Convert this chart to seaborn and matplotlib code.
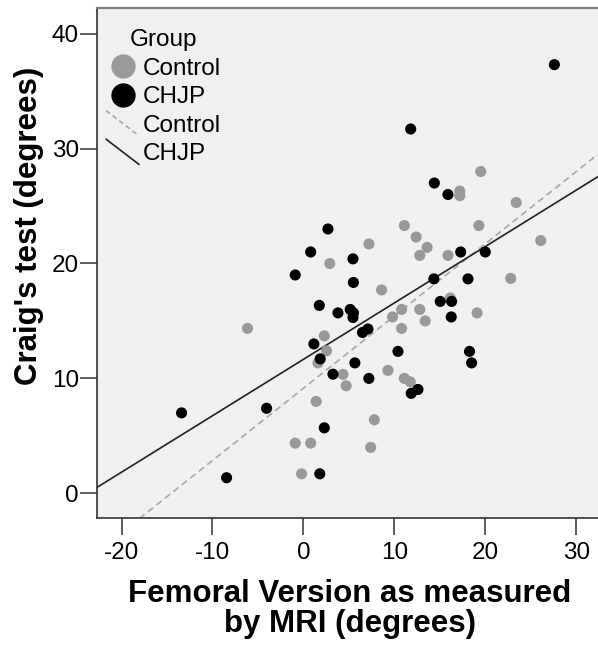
import matplotlib
matplotlib.use("Agg")
import matplotlib.pyplot as plt
import seaborn as sns
import pandas as pd
from matplotlib.lines import Line2D
from matplotlib.legend_handler import HandlerLine2D

# ---- data ----
control_x = [2.9, 7.2, 8.6, 19.5, 17.2, 17.2, 23.4, 11.1, 19.3, 12.4, 13.6, 26.1, 12.8,
             15.9, 22.8, 16.15, 10.8, 12.8, 9.8, 19.1, 13.4, 10.8, -6.15, 2.3, 2.55, 1.6,
             4.35, 4.7, 9.3, 11.1, 11.75, 1.4, 7.8, 7.4, -0.9, 0.8, -0.2]
control_y = [20.0, 21.7, 17.7, 28.0, 26.3, 25.9, 25.3, 23.3, 23.3, 22.3, 21.4, 22.0, 20.7,
             20.7, 18.7, 17.0, 16.0, 16.0, 15.35, 15.7, 15.0, 14.35, 14.35, 13.7, 12.4, 11.35,
             10.35, 9.36, 10.7, 10.0, 9.7, 8.0, 6.4, 4.0, 4.37, 4.37, 1.7]
chjp_x = [27.6, 11.8, 14.4, 15.9, 2.7, 0.8, 5.45, 17.3, 20.0, -0.9, 5.5, 14.35, 18.1,
          1.75, 3.8, 5.15, 5.5, 5.45, 15.05, 16.3, 16.26, 7.1, 6.5, 1.15, 1.85, 10.4,
          18.27, 18.5, 5.66, 3.25, 7.2, 12.6, 11.86, -13.4, -4.05, 2.3, 1.8, -8.45]
chjp_y = [37.3, 31.7, 27.0, 26.0, 23.0, 21.0, 20.4, 21.0, 21.0, 19.0, 18.35, 18.66, 18.66,
          16.35, 15.7, 16.0, 15.7, 15.3, 16.7, 16.7, 15.35, 14.3, 14.0, 13.0, 11.7, 12.35,
          12.35, 11.35, 11.35, 10.37, 10.0, 9.04, 8.7, 7.0, 7.4, 5.7, 1.7, 1.36]
groups = ["Control", "CHJP"]
x_ticks = [-20, -10, 0, 10, 20, 30]
y_ticks = [0, 10, 20, 30, 40]
x_label = "Femoral Version as measured\nby MRI (degrees)"
y_label = "Craig's test (degrees)"

df = pd.DataFrame({
    "mri": control_x + chjp_x,
    "craig": control_y + chjp_y,
    "Group": ["Control"] * len(control_x) + ["CHJP"] * len(chjp_x),
})

GRAY = "#999999"
BLACK = "#000000"
palette = {"Control": GRAY, "CHJP": BLACK}

sns.set_style("white")
plt.rcParams["font.family"] = ["Liberation Sans", "DejaVu Sans"]
plt.rcParams["axes.unicode_minus"] = False
plt.rcParams["text.color"] = "black"

fig = plt.figure(figsize=(5.98, 6.46), dpi=100)
ax = fig.add_axes([97 / 598, 1 - 518.3 / 646, (598 - 97) / 598, (518.3 - 8.3) / 646])
ax.set_facecolor("#f0f0f0")

XLIM = (-22.7, 32.4)
YLIM = (-2.17, 42.2)
ax.set_xlim(*XLIM)
ax.set_ylim(*YLIM)

sns.scatterplot(data=df, x="mri", y="craig", hue="Group", palette=palette,
                hue_order=groups, s=64, edgecolor="none", linewidth=0, legend=False,
                ax=ax, zorder=3)

ax.set_xlim(*XLIM)
sns.regplot(data=df[df.Group == "Control"], x="mri", y="craig", scatter=False, ci=None,
            truncate=False, ax=ax,
            line_kws=dict(color="#a8a8a8", lw=1.2, ls=(0, (4, 2.5)), zorder=2))
sns.regplot(data=df[df.Group == "CHJP"], x="mri", y="craig", scatter=False, ci=None,
            truncate=False, ax=ax,
            line_kws=dict(color="#222222", lw=1.2, zorder=2))
ax.set_xlim(*XLIM)
ax.set_ylim(*YLIM)

ax.set_xticks(x_ticks)
ax.set_yticks(y_ticks)
ax.tick_params(axis="both", which="major", bottom=True, left=True, direction="out",
               length=12, width=1.1, color="#333333", labelsize=17.5, labelcolor="black")
ax.tick_params(axis="x", pad=5)
ax.tick_params(axis="y", pad=1)
for name, sp in ax.spines.items():
    sp.set_visible(True)
    sp.set_color("#333333")
    sp.set_linewidth(1.2)
ax.spines["top"].set_color("#808080")
ax.spines["top"].set_linewidth(1.6)
ax.spines["right"].set_visible(False)

ax.set_xlabel(x_label, fontsize=22.5, fontweight="bold", color="black", linespacing=0.98)
ax.set_ylabel(y_label, fontsize=22.5, fontweight="bold", color="black")
ax.xaxis.set_label_coords((349.5 - 97) / 501, -(579 - 518.3) / 510)
ax.yaxis.set_label_coords(-(97 - 44) / 501, (518.3 - 226) / 510)


class DiagHandler(HandlerLine2D):
    def create_artists(self, legend, orig_handle, xdescent, ydescent, width, height,
                       fontsize, trans):
        line = Line2D([-xdescent, -xdescent + width], [height - ydescent + 3, -ydescent - 3])
        self.update_prop(line, orig_handle, legend)
        line.set_transform(trans)
        return [line]


handles = [
    Line2D([], [], marker="o", ls="none", color=GRAY, markersize=16.5),
    Line2D([], [], marker="o", ls="none", color=BLACK, markersize=16.5),
    Line2D([], [], color="#a8a8a8", lw=1.2, ls=(0, (3, 2))),
    Line2D([], [], color="#222222", lw=1.2),
]
labels = ["Control", "CHJP", "Control", "CHJP"]
leg = ax.legend(handles, labels, title="Group", loc="upper left",
                bbox_to_anchor=(106 / 598, 1 - 29 / 646), bbox_transform=fig.transFigure,
                frameon=False, fontsize=17.5, title_fontsize=17.5,
                handlelength=1.36, handletextpad=0.16, labelspacing=0.27,
                borderaxespad=0, borderpad=0,
                handler_map={handles[2]: DiagHandler(), handles[3]: DiagHandler()})

fig.savefig("out.png", dpi=100)
